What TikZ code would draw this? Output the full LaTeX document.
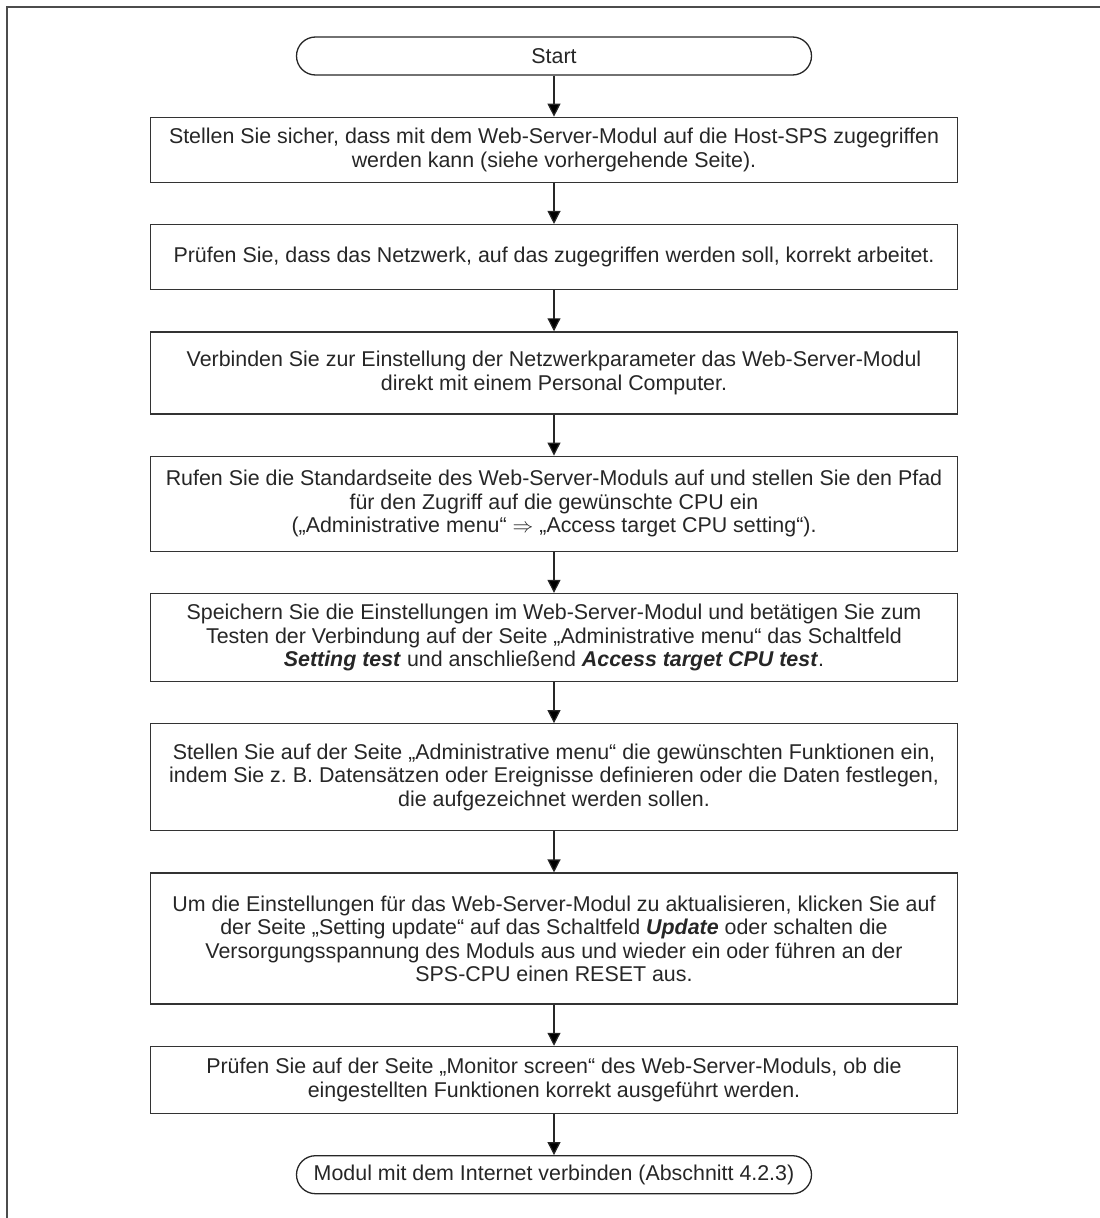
\documentclass[tikz,border=0pt]{standalone}
\usepackage{fontspec}
\setmainfont{Liberation Sans}
\usetikzlibrary{arrows.meta,positioning}
\frenchspacing

\begin{document}
\begin{tikzpicture}[x=1pt, y=1pt,
every node/.style={
        font=\fontsize{21.4}{23.5}\selectfont, text=black!85
    },
node distance = 41pt,
    stepbox/.style = {rectangle, draw=black!80, line width=1.3pt,
                 minimum width=807pt, minimum height=#1,
                 inner sep=0pt, align=center},
    stepbox/.default = 65pt,
    term/.style = {rectangle, rounded corners=19pt, draw=black!85,
                 line width=1.3pt, minimum width=515pt,
                 minimum height=38pt, inner sep=0pt, align=center},
    arr/.style = {line width=1.2pt, draw=black!85,
                 -{Triangle[length=13pt,width=13pt]}}
    ]
\useasboundingbox (0,0) rectangle (1100,-1218);
% page frame, open to the right and below
\draw[black!70, line width=2pt] (7,-1218) -- (7,-7) -- (1100,-7);

\node (Start) [term] at (554,-56) {Start};
\node (Access)  [stepbox, below=of Start]
        {Stellen Sie sicher, dass mit dem Web-Server-Modul auf die Host-SPS zugegriffen\\
         werden kann (siehe vorhergehende Seite).};
\node (Network) [stepbox, below=of Access]
        {Prüfen Sie, dass das Netzwerk, auf das zugegriffen werden soll, korrekt arbeitet.};
\node (Connect) [stepbox=82pt, below=of Network]
        {Verbinden Sie zur Einstellung der Netzwerkparameter das Web-Server-Modul\\
         direkt mit einem Personal Computer.};
\node (Path)    [stepbox=95pt, below=of Connect]
        {Rufen Sie die Standardseite des Web-Server-Moduls auf und stellen Sie den Pfad\\
         für den Zugriff auf die gewünschte CPU ein\\
         („Administrative menu“ $\Rightarrow$ „Access target CPU setting“).};
\node (Save)    [stepbox=88pt, below=of Path]
        {Speichern Sie die Einstellungen im Web-Server-Modul und betätigen Sie zum\\
         Testen der Verbindung auf der Seite „Administrative menu“ das Schaltfeld\\
         \textbf{\textit{Setting test}} und anschließend \textbf{\textit{Access target CPU test}}.};
\node (Funcs)   [stepbox=107pt, below=of Save]
        {Stellen Sie auf der Seite „Administrative menu“ die gewünschten Funktionen ein,\\
         indem Sie z. B. Datensätzen oder Ereignisse definieren oder die Daten festlegen,\\
         die aufgezeichnet werden sollen.};
\node (Update)  [stepbox=131pt, below=of Funcs]
        {Um die Einstellungen für das Web-Server-Modul zu aktualisieren, klicken Sie auf\\
         der Seite „Setting update“ auf das Schaltfeld \textbf{\textit{Update}} oder schalten die\\
         Versorgungsspannung des Moduls aus und wieder ein oder führen an der\\
         SPS-CPU einen RESET aus.};
\node (Monitor) [stepbox=67pt, below=of Update]
        {Prüfen Sie auf der Seite „Monitor screen“ des Web-Server-Moduls, ob die\\
         eingestellten Funktionen korrekt ausgeführt werden.};
\node (Internet) [term, below=of Monitor]
        {Modul mit dem Internet verbinden (Abschnitt 4.2.3)};

\path[arr]
    (Start)   edge (Access)
    (Access)  edge (Network)
    (Network) edge (Connect)
    (Connect) edge (Path)
    (Path)    edge (Save)
    (Save)    edge (Funcs)
    (Funcs)   edge (Update)
    (Update)  edge (Monitor)
    (Monitor) edge (Internet);
\end{tikzpicture}
\end{document}
